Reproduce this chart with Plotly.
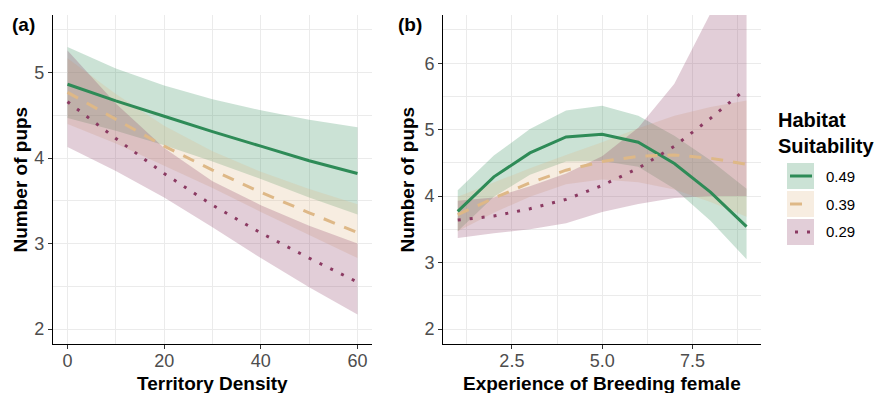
import plotly.graph_objects as go

# ---------------- data ----------------
dens = [0, 10, 20, 30, 40, 50, 60]
a_fit_049 = [4.865, 4.67, 4.49, 4.31, 4.14, 3.97, 3.82]
a_lo_049 = [4.47, 4.32, 4.15, 3.96, 3.755, 3.54, 3.34]
a_hi_049 = [5.30, 5.05, 4.85, 4.69, 4.56, 4.45, 4.36]
a_fit_039 = [4.77, 4.45, 4.14, 3.86, 3.60, 3.36, 3.13]
a_lo_039 = [4.40, 4.17, 3.91, 3.65, 3.37, 3.10, 2.83]
a_hi_039 = [5.17, 4.75, 4.38, 4.08, 3.84, 3.64, 3.46]
a_fit_029 = [4.66, 4.23, 3.82, 3.45, 3.125, 2.83, 2.55]
a_lo_029 = [4.13, 3.85, 3.54, 3.19, 2.83, 2.49, 2.17]
a_hi_029 = [5.26, 4.64, 4.12, 3.73, 3.45, 3.21, 3.00]

exper = [1, 2, 3, 4, 5, 6, 7, 8, 9]
b_fit_049 = [3.77, 4.29, 4.65, 4.89, 4.93, 4.81, 4.49, 4.06, 3.54]
b_lo_049 = [3.47, 3.99, 4.32, 4.52, 4.53, 4.44, 4.11, 3.63, 3.05]
b_hi_049 = [4.09, 4.61, 5.01, 5.29, 5.36, 5.21, 4.91, 4.54, 4.11]
b_fit_039 = [3.72, 3.97, 4.20, 4.39, 4.52, 4.60, 4.62, 4.57, 4.48]
b_lo_039 = [3.47, 3.75, 3.99, 4.18, 4.25, 4.21, 4.10, 3.91, 3.69]
b_hi_039 = [3.99, 4.21, 4.42, 4.62, 4.81, 5.02, 5.21, 5.34, 5.44]
b_fit_029 = [3.64, 3.70, 3.81, 3.95, 4.16, 4.42, 4.75, 5.17, 5.62]
b_lo_029 = [3.37, 3.44, 3.50, 3.59, 3.76, 3.88, 3.97, 4.00, 4.00]
b_hi_029 = [3.93, 3.98, 4.15, 4.34, 4.60, 5.03, 5.69, 6.75, 7.90]

levels = ["0.49", "0.39", "0.29"]
x_ticks_b = [2.5, 5.0, 7.5]
x_ticklabels_b = ["2.5", "5.0", "7.5"]

# ---------------- styles ----------------
W, H = 880, 393
FONT = "Liberation Sans, Arial, sans-serif"
line_col = {"0.49": "#2E8B57", "0.39": "#DEB887", "0.29": "#8B3A62"}
fill_col = {"0.49": "rgba(46,139,87,0.25)", "0.39": "rgba(222,184,135,0.25)",
            "0.29": "rgba(139,58,98,0.25)"}
dash = {"0.49": "solid", "0.39": "12px,10px", "0.29": "3px,9px"}

panel_a = {"0.49": (a_fit_049, a_lo_049, a_hi_049),
           "0.39": (a_fit_039, a_lo_039, a_hi_039),
           "0.29": (a_fit_029, a_lo_029, a_hi_029)}
panel_b = {"0.49": (b_fit_049, b_lo_049, b_hi_049),
           "0.39": (b_fit_039, b_lo_039, b_hi_039),
           "0.29": (b_fit_029, b_lo_029, b_hi_029)}

fig = go.Figure()

def add_panel(xs, data, xa, ya):
    for lv in levels:
        fit, lo, hi = data[lv]
        fig.add_trace(go.Scatter(
            x=list(xs) + list(xs)[::-1], y=list(hi) + list(lo)[::-1],
            fill="toself", fillcolor=fill_col[lv], line=dict(width=0),
            mode="lines", hoverinfo="skip", showlegend=False, xaxis=xa, yaxis=ya))
    for lv in levels:
        fit, lo, hi = data[lv]
        fig.add_trace(go.Scatter(
            x=xs, y=fit, mode="lines", name=lv,
            line=dict(color=line_col[lv], width=3, dash=dash[lv]),
            showlegend=False, xaxis=xa, yaxis=ya))

add_panel(dens, panel_a, "x", "y")
add_panel(exper, panel_b, "x2", "y2")

def px_x(p):
    return p / W

def px_y(p):
    return 1 - p / H

ydom = [px_y(344), px_y(15)]
grid = "#EBEBEB"
tickfont = dict(family=FONT, size=18, color="#4D4D4D")
common = dict(showline=True, linecolor="black", linewidth=1.4, ticks="outside",
              ticklen=4, tickcolor="#333333", tickwidth=1, showgrid=True,
              gridcolor=grid, gridwidth=1, zeroline=False, tickfont=tickfont)
xcommon = dict(common, ticklabelstandoff=-4)

fig.update_layout(
    width=W, height=H, margin=dict(l=0, r=0, t=0, b=0),
    paper_bgcolor="white", plot_bgcolor="white", showlegend=False,
    xaxis=dict(domain=[px_x(53), px_x(372)], range=[-3, 63], dtick=20, tick0=0,
               anchor="y", minor=dict(dtick=10, tick0=0, showgrid=True,
                                      gridcolor=grid, gridwidth=0.8), **xcommon),
    yaxis=dict(domain=ydom, range=[1.825, 5.675], dtick=1, tick0=0, anchor="x",
               minor=dict(dtick=0.5, tick0=0, showgrid=True, gridcolor=grid,
                          gridwidth=0.8), **common),
    xaxis2=dict(domain=[px_x(443.3), px_x(761)], range=[0.6, 9.4],
                tickvals=x_ticks_b, ticktext=x_ticklabels_b, anchor="y2",
                minor=dict(dtick=1.25, tick0=0, showgrid=True, gridcolor=grid,
                           gridwidth=0.8), **xcommon),
    yaxis2=dict(domain=ydom, range=[1.775, 6.725], dtick=1, tick0=0, anchor="x2",
                minor=dict(dtick=0.5, tick0=0, showgrid=True, gridcolor=grid,
                           gridwidth=0.8), **common),
)

ann = []
title_font = dict(family=FONT, size=19, color="black")
ann.append(dict(text="<b>Territory Density</b>", x=px_x(212.5), y=px_y(383),
                xref="paper", yref="paper", showarrow=False, font=title_font,
                xanchor="center", yanchor="middle"))
ann.append(dict(text="<b>Experience of Breeding female</b>", x=px_x(602), y=px_y(383),
                xref="paper", yref="paper", showarrow=False, font=title_font,
                xanchor="center", yanchor="middle"))
for xp in (20, 407):
    ann.append(dict(text="<b>Number of pups</b>", x=px_x(xp), y=px_y(179.5),
                    xref="paper", yref="paper", showarrow=False, font=title_font,
                    textangle=-90, xanchor="center", yanchor="middle"))
ann.append(dict(text="<b>(a)</b>", x=px_x(10), y=px_y(25), xref="paper", yref="paper",
                showarrow=False, font=dict(family=FONT, size=19, color="black"),
                xanchor="left", yanchor="middle"))
ann.append(dict(text="<b>(b)</b>", x=px_x(396), y=px_y(25), xref="paper", yref="paper",
                showarrow=False, font=dict(family=FONT, size=19, color="black"),
                xanchor="left", yanchor="middle"))
# legend title
ann.append(dict(text="<b>Habitat<br>Suitability</b>", x=px_x(776), y=px_y(133),
                xref="paper", yref="paper", showarrow=False, align="left",
                font=dict(family=FONT, size=20, color="black"),
                xanchor="left", yanchor="middle"))

shapes = []
key_tops = [163, 191, 219]
for lv, top in zip(levels, key_tops):
    shapes.append(dict(type="rect", xref="paper", yref="paper",
                       x0=px_x(787), x1=px_x(814), y0=px_y(top + 26), y1=px_y(top),
                       fillcolor=fill_col[lv], line=dict(width=0), layer="above"))
    xs0 = 795 if lv == "0.29" else 790
    shapes.append(dict(type="line", xref="paper", yref="paper",
                       x0=px_x(xs0), x1=px_x(812), y0=px_y(top + 13), y1=px_y(top + 13),
                       line=dict(color=line_col[lv], width=3, dash=dash[lv]),
                       layer="above"))
    ann.append(dict(text=lv, x=px_x(824), y=px_y(top + 13), xref="paper", yref="paper",
                    showarrow=False, font=dict(family=FONT, size=15, color="black"),
                    xanchor="left", yanchor="middle"))

fig.update_layout(annotations=ann, shapes=shapes)
fig.write_html("out.html")
